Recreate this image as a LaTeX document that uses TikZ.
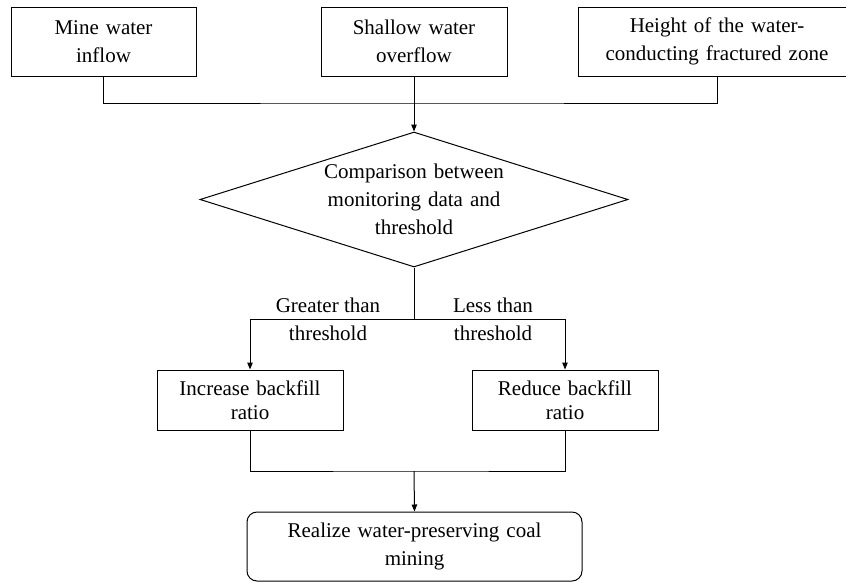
\documentclass[tikz,border=0pt]{standalone}
\usepackage{fontspec}
\setmainfont{Liberation Serif}
\usetikzlibrary{arrows.meta,shapes.geometric}
\newcommand{\flowfont}{\fontsize{21}{28}\selectfont}
\newcommand{\ratiofont}{\fontsize{21}{24}\selectfont}
\tikzset{
  inbox/.style={draw, line width=1pt, align=center, text width=#1, inner xsep=5pt,
    inner ysep=0pt, minimum height=69pt, font=\flowfont},
  inbox/.default=175pt,
  ratiobox/.style={draw, line width=1pt, align=center, text width=176pt, inner xsep=5pt,
    inner ysep=0pt, minimum height=60pt, font=\ratiofont},
  cmpbox/.style={draw, line width=1pt, shape=diamond, aspect=3.17, align=center,
    text width=180pt, inner sep=0pt, minimum width=428pt, minimum height=135pt, font=\flowfont},
  endbox/.style={draw, line width=1pt, rounded corners=10pt, align=center, text width=325pt,
    inner xsep=5pt, inner ysep=0pt, minimum height=69pt, font=\flowfont},
  branchlbl/.style={align=center, inner sep=0pt, font=\flowfont},
  flowline/.style={line width=1pt},
  flowarr/.style={-{Triangle[length=7pt, width=5.5pt]}, line width=1pt},
}
\begin{document}
\begin{tikzpicture}[x=1pt, y=-1pt]
  \useasboundingbox (0,0) rectangle (846,582);
  % monitoring inputs
  \node[inbox] (inflow) at (103.5,41.5) {Mine water\\inflow};
  \node[inbox=176pt] (overflow) at (414,41.5) {Shallow water\\overflow};
  \node[inbox=268pt] (fracture) at (717,41.5) {Height of the water-\\conducting fractured zone};
  \coordinate (join) at (414,103);
  \draw[flowline] (inflow.south) |- (join) -| (fracture.south);
  % comparison
  \node[cmpbox] (compare) at (414,199.5) {Comparison between\\monitoring data and\\threshold};
  \draw[flowarr] (overflow.south) -- (compare.north);
  % branches
  \coordinate (split) at (414,319);
  \node[ratiobox] (increase) at (250,400) {Increase backfill\\ratio};
  \node[ratiobox] (reduce) at (565,400) {Reduce backfill\\ratio};
  \draw[flowline] (compare.south) -- (split);
  \draw[flowarr] (split) -| (increase.north);
  \draw[flowarr] (split) -| (reduce.north);
  \node[branchlbl] (greater) at (328,319) {Greater than\\threshold};
  \node[branchlbl] (less) at (493,319) {Less than\\threshold};
  % result
  \coordinate (merge) at (414,471);
  \node[endbox] (realize) at (414.5,546.5) {Realize water-preserving coal\\mining};
  \draw[flowline] (increase.south) |- (merge) -| (reduce.south);
  \draw[flowarr] (merge) -- (realize.north);
\end{tikzpicture}
\end{document}
